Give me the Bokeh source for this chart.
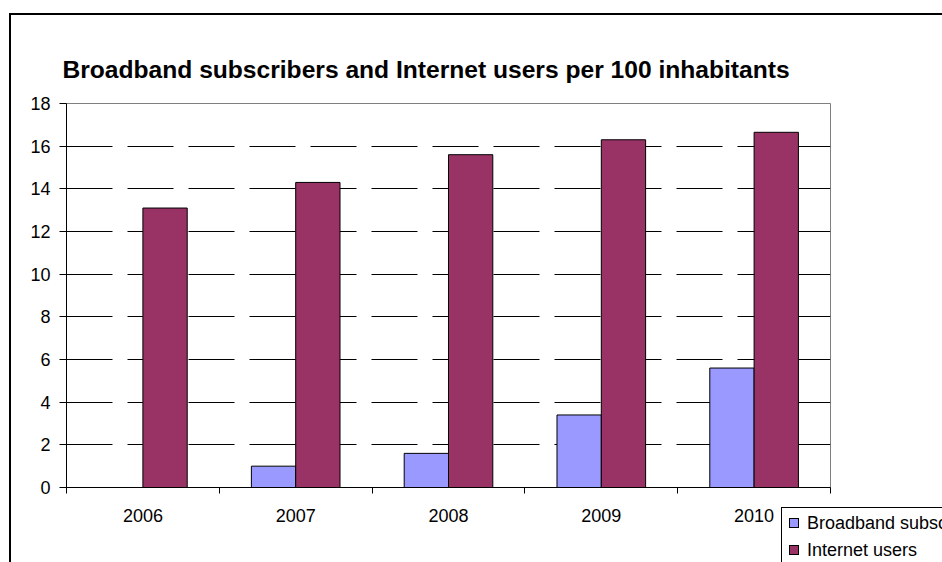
from bokeh.plotting import figure
from bokeh.layouts import column
from bokeh.models import ColumnDataSource, FixedTicker, Range1d, Div
from bokeh.transform import dodge
from bokeh.embed import file_html
from bokeh.resources import INLINE

# ---- data ----
years = [2006, 2007, 2008, 2009, 2010]
broadband = [0.0, 1.0, 1.6, 3.4, 5.6]
internet = [13.1, 14.3, 15.6, 16.3, 16.65]
series_names = ["Broadband subscribers", "Internet users"]
y_ticks = [0, 2, 4, 6, 8, 10, 12, 14, 16, 18]
title_text = "Broadband subscribers and Internet users per 100 inhabitants"

FONT = "Liberation Sans"
BAR_W = 0.29
COLORS = ["#9999FF", "#993366"]

source = ColumnDataSource(dict(year=years, broadband=broadband, internet=internet))

p = figure(
    width=942, height=562,
    output_backend="svg", toolbar_location=None,
    x_range=Range1d(years[0] - 0.5, years[-1] + 0.5),
    y_range=Range1d(y_ticks[0], y_ticks[-1]),
    min_border_left=66, min_border_right=112,
    min_border_top=103, min_border_bottom=75,
    background_fill_color="white", border_fill_color=None,
    outline_line_color="#808080", outline_line_width=1,
)
p.styles = {"box-shadow": "inset 9px 13px 0 0 white, inset 11px 15px 0 0 black"}

p.vbar(x=dodge("year", -BAR_W / 2), top="broadband", width=BAR_W, source=source,
       fill_color=COLORS[0], line_color="black", line_width=1)
p.vbar(x=dodge("year", BAR_W / 2), top="internet", width=BAR_W, source=source,
       fill_color=COLORS[1], line_color="black", line_width=1)

# grid
p.xgrid.visible = False
p.ygrid.ticker = FixedTicker(ticks=y_ticks[1:-1])
p.ygrid.grid_line_color = "black"
p.ygrid.grid_line_width = 1
p.ygrid.grid_line_dash = "46 15"

# y axis
yax = p.yaxis[0]
yax.ticker = FixedTicker(ticks=y_ticks)
yax.axis_line_color = "black"
yax.major_tick_line_color = "black"
yax.major_tick_out = 7
yax.major_tick_in = 0
yax.minor_tick_line_color = None
yax.major_label_standoff = 9
yax.major_label_text_font = FONT
yax.major_label_text_font_size = "18px"
yax.major_label_text_color = "black"

# x axis: labels at centres, ticks at category boundaries
bounds = [y - 0.5 for y in years] + [years[-1] + 0.5]
xax = p.xaxis[0]
xax.ticker = FixedTicker(ticks=years, minor_ticks=bounds)
xax.axis_line_color = "black"
xax.major_tick_line_color = None
xax.major_tick_out = 0
xax.major_tick_in = 0
xax.minor_tick_line_color = "black"
xax.minor_tick_out = 6
xax.minor_tick_in = 0
xax.major_label_standoff = 15
xax.major_label_text_font = FONT
xax.major_label_text_font_size = "18px"
xax.major_label_text_color = "black"

# title
p.title.text = title_text
p.title.align = "left"
p.title.offset = -4
p.title.standoff = 42
p.title.text_font = FONT
p.title.text_font_style = "bold"
p.title.text_font_size = "24.6px"
p.title.text_color = "black"

# legend box, overlaid at the bottom right and cut off by the window edge
rows = "".join(
    f'<div style="display:flex;align-items:center;height:27px;white-space:nowrap;">'
    f'<span style="display:inline-block;box-sizing:border-box;width:10px;height:10px;'
    f'border:1px solid black;background:{c};margin-right:8px;flex:none;"></span>'
    f'<span>{name}</span></div>'
    for name, c in zip(series_names, COLORS)
)
legend_html = (
    f'<div style="box-sizing:border-box;width:240px;height:70px;border:1px solid black;'
    f'background:white;padding:1px 0 0 7px;font-family:\'{FONT}\';font-size:18px;'
    f'color:black;line-height:20px;">{rows}</div>'
)
leg = Div(text=legend_html, width=161, height=55,
          styles={"position": "absolute", "left": "781px", "top": "507px",
                  "overflow": "hidden", "margin": "0", "padding": "0"})

layout = column(p, leg)
open("out.html", "w").write(file_html(layout, INLINE))
